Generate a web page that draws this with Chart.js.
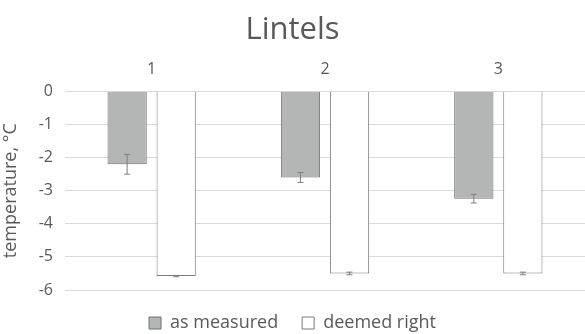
<!DOCTYPE html>
<html>
<head>
<meta charset="utf-8">
<script src="https://cdn.jsdelivr.net/npm/chart.js@4.4.0/dist/chart.umd.min.js"></script>
<style>
  html, body { margin: 0; padding: 0; background: #ffffff; }
  #wrap { width: 585px; height: 334px; }
</style>
</head>
<body>
<div id="wrap"><canvas id="chart"></canvas></div>
<script>
// Chart data
const categories = ['1', '2', '3'];
const measuredValues = [-2.2, -2.6, -3.24];
const measuredErrors = [0.3, 0.15, 0.13];
const deemedValues = [-5.58, -5.5, -5.5];
const deemedErrors = [0.02, 0.04, 0.04];
const yTicks = [0, -1, -2, -3, -4, -5, -6];

const textColor = '#595959';

// Draw the error bars from the dataset values and the y scale
const errorBars = {
  id: 'errorBars',
  afterDatasetsDraw(chart) {
    const ctx = chart.ctx;
    const yScale = chart.scales.y;
    chart.data.datasets.forEach((ds, di) => {
      const meta = chart.getDatasetMeta(di);
      meta.data.forEach((bar, i) => {
        const v = ds.data[i];
        const e = ds.errors[i];
        const top = yScale.getPixelForValue(v + e);
        const bottom = yScale.getPixelForValue(v - e);
        ctx.save();
        ctx.strokeStyle = '#7f7f7f';
        ctx.lineWidth = 1;
        ctx.beginPath();
        ctx.moveTo(bar.x, top);
        ctx.lineTo(bar.x, bottom);
        ctx.moveTo(bar.x - 3, top);
        ctx.lineTo(bar.x + 3, top);
        ctx.moveTo(bar.x - 3, bottom);
        ctx.lineTo(bar.x + 3, bottom);
        ctx.stroke();
        ctx.restore();
      });
    });
  }
};

const ctx = document.getElementById('chart').getContext('2d');
new Chart(ctx, {
  type: 'bar',
  data: {
    labels: categories,
    datasets: [
      {
        label: 'as measured',
        data: measuredValues,
        errors: measuredErrors,
        backgroundColor: '#b4b6b6',
        borderColor: '#6f7070',
        borderWidth: 1,
        categoryPercentage: 0.566,
        barPercentage: 0.8
      },
      {
        label: 'deemed right',
        data: deemedValues,
        errors: deemedErrors,
        backgroundColor: '#ffffff',
        borderColor: '#7a7a7a',
        borderWidth: 1,
        categoryPercentage: 0.566,
        barPercentage: 0.8
      }
    ]
  },
  options: {
    responsive: true,
    maintainAspectRatio: false,
    animation: false,
    layout: { padding: { left: 0, right: 0, top: 12, bottom: -8 } },
    plugins: {
      title: {
        display: true,
        text: 'Lintels',
        color: textColor,
        font: { family: 'Open Sans', size: 31, weight: 'normal' },
        padding: { top: 0, bottom: 7 }
      },
      legend: {
        position: 'bottom',
        labels: {
          color: textColor,
          font: { family: 'Open Sans', size: 18 },
          boxWidth: 12,
          boxHeight: 12,
          padding: 24
        }
      },
      tooltip: { enabled: false }
    },
    scales: {
      x: {
        position: 'top',
        grid: { display: false },
        border: { display: false },
        ticks: { color: textColor, font: { family: 'Open Sans', size: 16 }, padding: 4 }
      },
      y: {
        min: -6,
        max: 0,
        afterBuildTicks: (scale) => { scale.ticks = yTicks.map(v => ({ value: v })); },
        afterFit: (scale) => { scale.width = 65; },
        grid: { color: '#d9d9d9', drawTicks: false },
        border: { display: false },
        ticks: { color: textColor, font: { family: 'Open Sans', size: 16 }, padding: 12 },
        title: {
          display: true,
          text: 'temperature, °C',
          color: textColor,
          font: { family: 'Open Sans', size: 18 },
          padding: 0
        }
      }
    }
  },
  plugins: [errorBars]
});
</script>
</body>
</html>
